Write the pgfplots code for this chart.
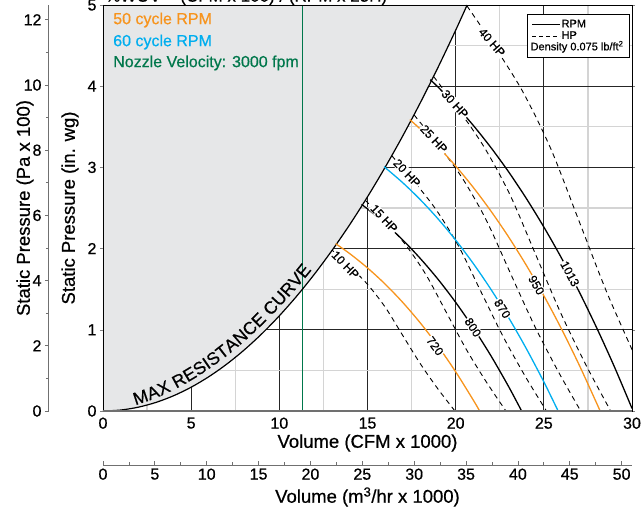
\documentclass[border=0pt]{standalone}
\usepackage{fontspec}
\setmainfont{Liberation Sans}[FakeBold=0.6]
\usepackage{pgfplots}
\pgfplotsset{compat=1.18}
\definecolor{orng}{HTML}{F7941D}
\definecolor{cyanb}{HTML}{00AEEF}
\definecolor{grn}{HTML}{00774B}
\definecolor{shade}{HTML}{E6E7E8}
\definecolor{gridlight}{HTML}{D4D4D4}
\definecolor{axgray}{HTML}{707070}
\begin{document}
\begin{tikzpicture}
% ---------- main axis ----------
\begin{axis}[
  name=main, at={(0pt,0pt)}, anchor=south west,
  scale only axis, width=529pt, height=406pt,
  xmin=0, xmax=30, ymin=0, ymax=5,
  xtick={0,5,...,30}, ytick={0,1,...,5},
  minor xtick={2.5,7.5,...,27.5}, minor ytick={0.5,1.5,...,4.5},
  grid=both,
  major grid style={draw=black!85, line width=0.8pt},
  minor grid style={draw=gridlight, line width=1.3pt},
  axis line style={black, line width=0.8pt},
  tick align=outside, major tick length=3pt, minor tick length=0pt,
  xtick style={draw=none},
  /pgf/number format/assume math mode=true,
  ticklabel style={font=\fontsize{16}{16}\selectfont},
  xlabel={Volume (CFM x 1000)}, ylabel={Static Pressure (in. wg)},
  label style={font=\fontsize{18.5}{18.5}\selectfont},
  xlabel style={at={(axis description cs:0.5,-0.0788)}, anchor=center},
  ylabel style={at={(axis description cs:-0.0624,0.5)}, anchor=center},
  legend style={at={(rel axis cs:0.995,0.978)}, anchor=north east,
    draw=black, fill=white, line width=0.8pt,
    font=\fontsize{11}{11}\selectfont, inner sep=4.5pt, row sep=0pt,
    nodes={inner ysep=0.5pt, inner xsep=1pt, text height=8pt, text depth=2.5pt}},
  legend cell align=left,
  legend image code/.code={\draw[#1] (0pt,0pt) -- (28pt,0pt);},
]
% shaded region beyond max resistance curve
\addplot[fill=shade, draw=none, forget plot] coordinates {
 (0,0) (1,0.0117) (2,0.0469) (3,0.1055) (4,0.1876) (5,0.2931) (6,0.4220)
 (7,0.5744) (8,0.7503) (9,0.9496) (10,1.1723) (11,1.4185) (12,1.6882)
 (13,1.9812) (14,2.2978) (15,2.6377) (16,3.0012) (17,3.3880) (18,3.7984)
 (19,4.2321) (20,4.6893) (20.65,5.0) (0,5) (0,0)};
% nozzle velocity line
\addplot[grn, line width=1.2pt, forget plot] coordinates {(11.33,0) (11.33,5)};
% max resistance curve
\addplot[black, line width=1.2pt, smooth, forget plot] coordinates {
 (0,0) (1,0.0117) (2,0.0469) (3,0.1055) (4,0.1876) (5,0.2931) (6,0.4220)
 (7,0.5744) (8,0.7503) (9,0.9496) (10,1.1723) (11,1.4185) (12,1.6882)
 (13,1.9812) (14,2.2978) (15,2.6377) (16,3.0012) (17,3.3880) (18,3.7984)
 (19,4.2321) (20,4.6893) (20.65,5.0)};
% HP lines (dashed)
\addplot[black, line width=0.9pt, dash pattern=on 5pt off 4pt, smooth, forget plot] coordinates {
 (13.0,1.98) (14.0,1.78) (15.0,1.56) (16.0,1.28) (17.0,0.93) (18.0,0.58) (19.0,0.27) (19.96,0)};
\addplot[black, line width=0.9pt, dash pattern=on 5pt off 4pt, smooth, forget plot] coordinates {
 (14.88,2.595) (16.03,2.332) (17.17,2.044) (18.32,1.677) (19.46,1.219) (20.60,0.760) (21.75,0.354) (22.85,0)};
\addplot[black, line width=0.9pt, dash pattern=on 5pt off 4pt, smooth, forget plot] coordinates {
 (16.38,3.143) (17.64,2.826) (18.90,2.476) (20.16,2.032) (21.42,1.476) (22.68,0.921) (23.94,0.429) (25.15,0)};
\addplot[black, line width=0.9pt, dash pattern=on 5pt off 4pt, smooth, forget plot] coordinates {
 (17.64,3.647) (19.00,3.279) (20.36,2.874) (21.72,2.358) (23.07,1.713) (24.43,1.068) (25.79,0.497) (27.09,0)};
\addplot[black, line width=0.9pt, dash pattern=on 5pt off 4pt, smooth, forget plot] coordinates {
 (18.75,4.119) (20.19,3.703) (21.63,3.245) (23.08,2.663) (24.52,1.935) (25.96,1.206) (27.40,0.562) (28.79,0)};
\addplot[black, line width=0.9pt, dash pattern=on 5pt off 4pt, smooth, forget plot] coordinates {
 (20.64,4.989) (22.22,4.485) (23.81,3.931) (25.40,3.227) (26.99,2.343) (28.57,1.462) (30.16,0.680)};
% RPM curves (solid)
\addplot[orng, line width=1.3pt, smooth, forget plot] coordinates {
 (13.19,2.061) (14,1.937) (15,1.762) (16,1.563) (17,1.337) (18,1.083) (19,0.799) (20,0.483) (21,0.134) (21.36,0)};
\addplot[black, line width=1.3pt, smooth, forget plot] coordinates {
 (14.66,2.544) (15,2.489) (16,2.309) (17,2.106) (18,1.877) (19,1.622) (20,1.338) (21,1.024) (22,0.680) (23,0.302) (23.74,0)};
\addplot[cyanb, line width=1.3pt, smooth, forget plot] coordinates {
 (15.94,3.009) (17,2.811) (18,2.601) (19,2.366) (20,2.105) (21,1.816) (22,1.498) (23,1.151) (24,0.771) (25,0.359) (25.81,0)};
\addplot[orng, line width=1.3pt, smooth, forget plot] coordinates {
 (17.40,3.588) (18,3.471) (19,3.256) (20,3.017) (21,2.753) (22,2.462) (23,2.144) (24,1.797) (25,1.420) (26,1.011) (27,0.569) (28,0.094) (28.19,0)};
\addplot[black, line width=1.3pt, smooth, forget plot] coordinates {
 (18.56,4.080) (19,3.989) (20,3.765) (21,3.517) (22,3.244) (23,2.946) (24,2.620) (25,2.266) (26,1.884) (27,1.470) (28,1.023) (29,0.545) (30,0.032)};
% legend
\addlegendimage{black, line width=0.8pt}
\addlegendentry{RPM}
\addlegendimage{black, line width=0.8pt, dash pattern=on 4pt off 3pt}
\addlegendentry{HP}
\addlegendimage{empty legend}
\addlegendentry{\hspace*{-31pt}Density 0.075 lb/ft\textsuperscript{2}}
% HP and RPM labels
\begin{scope}[every node/.style={fill=white, inner sep=0.8pt, font=\fontsize{12}{12}\selectfont}]
\node[rotate=-46] at (axis cs:13.75,1.80) {10 HP};
\node[rotate=-47] at (axis cs:15.94,2.37) {15 HP};
\node[rotate=-47] at (axis cs:17.24,2.93) {20 HP};
\node[rotate=-47] at (axis cs:18.77,3.35) {25 HP};
\node[rotate=-48] at (axis cs:19.96,3.78) {30 HP};
\node[rotate=-49] at (axis cs:22.06,4.54) {40 HP};
\node[rotate=-54] at (axis cs:18.83,0.80) {720};
\node[rotate=-57] at (axis cs:20.98,1.03) {800};
\node[rotate=-58] at (axis cs:22.65,1.26) {870};
\node[rotate=-60] at (axis cs:24.58,1.55) {950};
\node[rotate=-62] at (axis cs:26.48,1.69) {1013};
\end{scope}
% annotations
\node[anchor=west, text=orng, inner sep=0pt, font=\fontsize{16}{16}\selectfont] at (axis cs:0.57,4.815) {50 cycle RPM};
\node[anchor=west, text=cyanb, inner sep=0pt, font=\fontsize{16}{16}\selectfont] at (axis cs:0.57,4.544) {60 cycle RPM};
\node[anchor=west, text=grn, inner sep=0pt, font=\fontsize{16}{16}\selectfont] at (axis cs:0.57,4.286) {Nozzle Velocity: 3000 fpm};
% frame
\draw[black, line width=0.8pt] (rel axis cs:0,0) -- (rel axis cs:0,1) -- (rel axis cs:1,1) -- (rel axis cs:1,0);
\draw[axgray, line width=1.6pt] (rel axis cs:0,0) -- (rel axis cs:1,0);
\end{axis}
% curved label along the max resistance curve (letter by letter, pt = axis pixels)
\begin{scope}[every node/.style={inner sep=0pt, anchor=center, font=\fontsize{17.6}{17.6}\selectfont}]
\node[rotate=18.5] at (37.55pt,13.82pt) {M};
\node[rotate=21.9] at (49.95pt,18.38pt) {A};
\node[rotate=24.7] at (60.72pt,23.03pt) {X};
\node[rotate=28.5] at (75.99pt,30.69pt) {R};
\node[rotate=31.0] at (86.60pt,36.75pt) {E};
\node[rotate=33.2] at (96.54pt,42.99pt) {S};
\node[rotate=34.7] at (103.44pt,47.64pt) {I};
\node[rotate=36.1] at (110.24pt,52.47pt) {S};
\node[rotate=37.9] at (119.21pt,59.23pt) {T};
\node[rotate=39.5] at (127.97pt,66.25pt) {A};
\node[rotate=41.2] at (137.28pt,74.17pt) {N};
\node[rotate=42.8] at (146.72pt,82.67pt) {C};
\node[rotate=44.3] at (155.57pt,91.09pt) {E};
\node[rotate=46.1] at (167.63pt,103.24pt) {C};
\node[rotate=47.4] at (176.33pt,112.50pt) {U};
\node[rotate=48.6] at (184.83pt,121.94pt) {R};
\node[rotate=49.7] at (192.83pt,131.18pt) {V};
\node[rotate=50.6] at (200.38pt,140.22pt) {E};
\end{scope}
% ---------- Pa axis ----------
\begin{axis}[
  at={(-54pt,0pt)}, anchor=south west,
  scale only axis, width=10pt, height=406pt,
  xmin=0, xmax=1, ymin=0, ymax=12.4545,
  hide x axis, axis y line*=left,
  ytick={0,2,...,12}, minor ytick={1,3,...,11},
  tick align=outside, major tick length=4pt, minor tick length=3pt,
  y axis line style={axgray, line width=1pt},
  every tick/.style={axgray, line width=0.8pt},
  /pgf/number format/assume math mode=true,
  ticklabel style={font=\fontsize{16}{16}\selectfont},
  ylabel={Static Pressure (Pa x 100)},
  label style={font=\fontsize{18.5}{18.5}\selectfont},
  ylabel style={at={(axis description cs:-2.4,0.5)}, anchor=center},
]
\end{axis}
% ---------- m3/hr axis ----------
\begin{axis}[
  at={(0pt,-54pt)}, anchor=south west,
  scale only axis, width=529pt, height=10pt,
  xmin=0, xmax=51.0, ymin=0, ymax=1,
  hide y axis, axis x line*=bottom,
  xtick={0,5,...,50}, minor xtick={2.5,7.5,...,47.5},
  tick align=inside, major tick length=4pt, minor tick length=3pt,
  x axis line style={axgray, line width=1pt},
  every tick/.style={axgray, line width=0.8pt},
  /pgf/number format/assume math mode=true,
  ticklabel style={font=\fontsize{16}{16}\selectfont},
  xlabel={Volume (m\textsuperscript{3}/hr x 1000)},
  label style={font=\fontsize{18.5}{18.5}\selectfont},
  xlabel style={at={(axis description cs:0.5,-3.2)}, anchor=center},
]
\end{axis}
\node[anchor=base west, inner sep=0pt, font=\fontsize{17}{17}\selectfont] at (2pt,409.3pt) {\%WOV = (CFM x 100) / (RPM x 25H)};
\pgfresetboundingbox
\path[use as bounding box] (-103pt,-95pt) rectangle (539pt,411pt);
\end{tikzpicture}
\end{document}
